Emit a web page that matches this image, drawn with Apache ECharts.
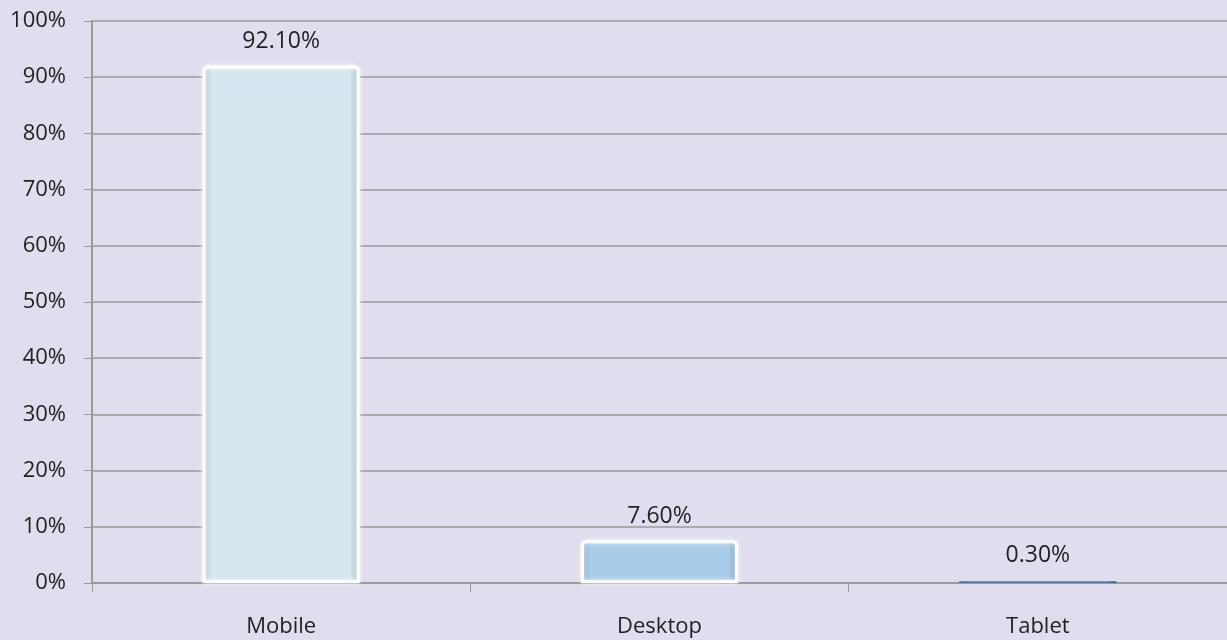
<!DOCTYPE html>
<html>
<head>
<meta charset="utf-8">
<script src="https://cdn.jsdelivr.net/npm/echarts@6/dist/echarts.min.js"></script>
<style>
html,body{margin:0;padding:0;background:#e0deee;}
#c{width:1227px;height:640px;}
</style>
</head>
<body>
<div id="c"></div>
<script>
const categories = ['Mobile', 'Desktop', 'Tablet'];
const values = [92.1, 7.6, 0.3];
const labels = ['92.10%', '7.60%', '0.30%'];
const yTicks = [0, 10, 20, 30, 40, 50, 60, 70, 80, 90, 100];

const palettes = [
  ['#aec4cf', '#d6e6ee', '#d6e6ee', '#9fb6c2'],
  ['#86abcb', '#a9cce8', '#a9cce8', '#7699ba'],
  ['#3a6c9e', '#4a80b6', '#4a80b6', '#2f5f8f']
];
const FONT = 'Open Sans';
const chart = echarts.init(document.getElementById('c'));
chart.setOption({
  backgroundColor: '#e0deee',
  animation: false,
  grid: {left: 92, right: 0, top: 21, bottom: 57, containLabel: false},
  xAxis: {
    type: 'category',
    data: categories,
    axisLine: {lineStyle: {color: '#9a9a9a', width: 2}},
    axisTick: {show: true, length: 9, lineStyle: {color: '#9a9a9a', width: 1}},
    axisLabel: {color: '#222', fontSize: 22, fontFamily: FONT, margin: 33}
  },
  yAxis: {
    type: 'value',
    min: 0, max: 100, interval: 10,
    axisLine: {show: true, lineStyle: {color: '#9a9a9a', width: 2}},
    axisTick: {show: true, length: 8, lineStyle: {color: '#9a9a9a'}},
    splitLine: {lineStyle: {color: '#9a9a9a', width: 1.5}},
    axisLabel: {color: '#222', fontSize: 22, fontFamily: FONT, margin: 26,
      formatter: v => yTicks.includes(v) ? v + '%' : ''}
  },
  series: [{
    type: 'bar',
    barWidth: '41.5%',
    data: values.map((v, i) => ({
      value: v,
      itemStyle: {
        color: new echarts.graphic.LinearGradient(0, 0, 1, 0, [
          {offset: 0, color: palettes[i][0]},
          {offset: 0.06, color: palettes[i][1]},
          {offset: 0.94, color: palettes[i][2]},
          {offset: 1, color: palettes[i][3]}
        ]),
        borderColor: '#ffffff',
        borderWidth: i === 2 ? 0 : 3,
        borderRadius: i === 2 ? 0 : [4, 4, 0, 0],
        shadowColor: 'rgba(255,255,255,0.8)',
        shadowBlur: i === 2 ? 0 : 4
      },
      label: {
        show: true, position: 'top', distance: i === 2 ? 14 : 12,
        formatter: labels[i], color: '#222', fontSize: 23, fontFamily: FONT
      }
    }))
  }]
});
</script>
</body>
</html>
